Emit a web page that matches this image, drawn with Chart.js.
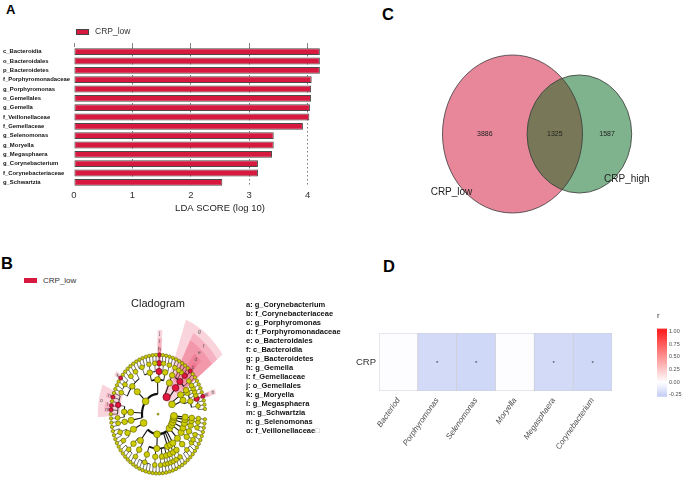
<!DOCTYPE html>
<html lang="en">
<head>
<meta charset="UTF-8" />
<title>CRP microbiome panels</title>
<script src="https://cdn.jsdelivr.net/npm/chart.js"></script>
<style>
  body { margin: 0; background: #fff; font-family: 'Liberation Sans', Arial, sans-serif; }
  #page { position: relative; width: 685px; height: 480px; overflow: hidden; }
  .tag { position: absolute; font-weight: bold; line-height: 1; color: #000; }
  .box { position: absolute; }
  .legend { position: absolute; font-family: 'Liberation Sans', Arial, sans-serif; font-size: 8.5px; color: #333; line-height: 9px; white-space: nowrap; }
  .legend i { display: inline-block; vertical-align: middle; background: #d7193f; margin-right: 6px; }
  #cladoKey { position: absolute; left: 246px; top: 300px; font: bold 7.5px Arial, 'Liberation Sans', sans-serif; line-height: 9px; color: #111; white-space: nowrap; }
</style>
</head>
<body>
<div id="page">
  <div class="tag" style="left:6px;top:3px;font-size:13px">A</div>
  <div class="tag" style="left:1px;top:255px;font-size:16.5px">B</div>
  <div class="tag" style="left:382px;top:6px;font-size:16.5px">C</div>
  <div class="tag" style="left:383px;top:258px;font-size:16.5px">D</div>

  <div class="box" style="left:0;top:0;width:372px;height:225px"><canvas id="ldaChart"></canvas></div>
  <div class="legend" style="left:76px;top:27px"><i style="width:11px;height:4px;border:1px solid #444"></i>CRP_low</div>

  <div class="box" style="left:350px;top:0;width:335px;height:240px"><canvas id="vennChart"></canvas></div>

  <div class="legend" style="left:24px;top:276px;font-size:8px"><i style="width:13px;height:5px"></i>CRP_low</div>
  <div class="box" style="left:40px;top:295px;width:236px;height:185px"><canvas id="cladoChart"></canvas></div>
  <div id="cladoKey"></div>

  <div class="box" style="left:350px;top:300px;width:290px;height:180px"><canvas id="heatChart"></canvas></div>
  <div class="box" style="left:657px;top:305px;width:28px;height:97px"><canvas id="barChart"></canvas></div>
</div>

<script>
  Chart.defaults.font.family = "'Liberation Sans', Arial, sans-serif";

  // ---- A: LEfSe LDA scores
  const lefseTaxa = [
    'c_Bacteroidia', 'o_Bacteroidales', 'p_Bacteroidetes', 'f_Porphyromonadaceae',
    'g_Porphyromonas', 'o_Gemellales', 'g_Gemella', 'f_Veillonellaceae', 'f_Gemellaceae',
    'g_Selenomonas', 'g_Moryella', 'g_Megasphaera', 'g_Corynebacterium',
    'f_Corynebacteriaceae', 'g_Schwartzia'
  ];
  const ldaScores = [4.21, 4.21, 4.21, 4.07, 4.06, 4.06, 4.04, 4.03, 3.92, 3.42, 3.42, 3.39, 3.15, 3.15, 2.54];
  const ldaTicks = [0, 1, 2, 3, 4];

  // ---- B: cladogram (phylum > class > order > family genus counts)
  const cladeTree = [
    [[[3, 1, 1, 1], [1]], [[1]]],                                   // Actinobacteria
    [[[2, 2, 1, 1]], [[2]]],                                        // Bacteroidetes
    [[[2, 2], [1], [2, 2, 3]], [[2, 2, 4, 1]], [[6, 1]], [[2]]],    // Firmicutes
    [[[3, 2]]],                                                     // Fusobacteria
    [[[4], [2]], [[5], [2], [2, 1], [1]], [[1, 1]], [[1]], [[2]]],  // Proteobacteria
    [[[4]]],                                                        // Spirochaetes
    [[[1, 1]]],                                                     // Synergistetes
    [[[2]]],                                                        // Saccharibacteria
    [[[2]]],                                                        // Tenericutes
    [[[1]]],                                                        // Cyanobacteria
    [[[1]]]                                                         // Chloroflexi
  ];
  const biomarkerLetters = ['a', 'b', 'c', 'd', 'e', 'f', 'g', 'h', 'i', 'j', 'k', 'l', 'm', 'n', 'o'];
  const biomarkerNames = [
    'g_Corynebacterium', 'f_Corynebacteriaceae', 'g_Porphyromonas', 'f_Porphyromonadaceae',
    'o_Bacteroidales', 'c_Bacteroidia', 'p_Bacteroidetes', 'g_Gemella', 'f_Gemellaceae',
    'o_Gemellales', 'g_Moryella', 'g_Megasphaera', 'g_Schwartzia', 'g_Selenomonas', 'f_Veillonellaceae'
  ];
  const biomarkerPaths = [
    [0, 0, 0, 1, 0], [0, 0, 0, 1], [1, 0, 0, 1, 0], [1, 0, 0, 1], [1, 0, 0], [1, 0], [1],
    [2, 0, 1, 0, 0], [2, 0, 1, 0], [2, 0, 1], [2, 1, 0, 2, 1],
    [2, 2, 0, 0, 3], [2, 2, 0, 0, 4], [2, 2, 0, 0, 1], [2, 2, 0, 0]
  ];

  // ---- C: Venn
  const vennSets = ['CRP_low', 'CRP_high'];
  const vennOnly = [3886, 1587];
  const vennShared = 1325;

  // ---- D: correlation heatmap
  const heatGenera = ['Bacteriod', 'Porphyromonas', 'Selenomonas', 'Moryella', 'Megasphaera', 'Corynebacterium'];
  const heatRows = ['CRP'];
  const heatR = [-0.01, -0.21, -0.22, -0.01, -0.21, -0.22];
  const heatSig = ['', '*', '*', '', '*', '*'];
  const colorbarTicks = [-0.25, 0, 0.25, 0.5, 0.75, 1];
  const colorbarRange = [-0.287, 1.055];

  // =================== A ===================
  new Chart(document.getElementById('ldaChart'), {
    type: 'bar',
    data: {
      labels: lefseTaxa,
      datasets: [{
        label: 'CRP_low',
        data: ldaScores,
        backgroundColor: '#d7193f',
        borderColor: '#4a4a4a',
        borderWidth: 1,
        borderSkipped: false,
        barPercentage: 0.74,
        categoryPercentage: 1,
        xAxisID: 'x'
      }]
    },
    options: {
      indexAxis: 'y',
      responsive: true,
      maintainAspectRatio: false,
      animation: false,
      layout: { padding: { top: 43, right: 6, left: 3, bottom: 0 } },
      plugins: { legend: { display: false }, tooltip: { enabled: false } },
      scales: {
        x: {
          min: 0, max: 5,
          afterBuildTicks: s => { s.ticks = ldaTicks.map(v => ({ value: v })); },
          afterFit: s => { s.height = 38; },
          grid: { color: c => (c.tick && c.tick.value === 0 ? 'rgba(0,0,0,0)' : '#555'), lineWidth: 0.8, drawTicks: false },
          border: { display: false, dash: [1.5, 2.5] },
          ticks: { color: '#333', padding: 3, font: { size: 9.5 } },
          title: { display: true, text: 'LDA SCORE (log 10)', color: '#222', padding: { top: 0, bottom: 11 }, font: { size: 9.5 } }
        },
        xTop: {
          position: 'top',
          min: 0, max: 5,
          afterBuildTicks: s => { s.ticks = ldaTicks.map(v => ({ value: v })); },
          afterFit: s => { s.height = 4; },
          grid: { drawOnChartArea: false, tickLength: 4, color: '#666', lineWidth: 0.8 },
          border: { display: false },
          ticks: { display: false }
        },
        y: {
          afterFit: s => { s.width = 71; },
          grid: { display: false, drawTicks: false },
          border: { display: false },
          ticks: { crossAlign: 'far', autoSkip: false, color: '#111', padding: 2, font: { size: 5.9, weight: 'bold' } }
        }
      }
    }
  });

  // =================== C ===================
  const vennTotals = vennOnly.map(n => n + vennShared);
  const vennRadius = vennTotals.map(n => Math.sqrt(n / Math.PI));
  function lensArea(r1, r2, d) {
    if (d >= r1 + r2) return 0;
    if (d <= Math.abs(r1 - r2)) return Math.PI * Math.min(r1, r2) ** 2;
    const a = r1 * r1 * Math.acos((d * d + r1 * r1 - r2 * r2) / (2 * d * r1));
    const b = r2 * r2 * Math.acos((d * d + r2 * r2 - r1 * r1) / (2 * d * r2));
    const c = 0.5 * Math.sqrt((-d + r1 + r2) * (d + r1 - r2) * (d - r1 + r2) * (d + r1 + r2));
    return a + b - c;
  }
  let lo = Math.abs(vennRadius[0] - vennRadius[1]), hi = vennRadius[0] + vennRadius[1];
  for (let i = 0; i < 60; i++) {
    const mid = (lo + hi) / 2;
    if (lensArea(vennRadius[0], vennRadius[1], mid) > vennShared) lo = mid; else hi = mid;
  }
  const vennDist = (lo + hi) / 2;
  const vennCentres = [{ x: 0, y: 0 }, { x: vennDist, y: 0 }];

  const vennPlugin = {
    id: 'vennPlugin',
    beforeDatasetsDraw(chart, args, opts) {
      const { ctx, scales: { x, y } } = chart;
      const ell = i => {
        const c = vennCentres[i], r = vennRadius[i];
        const cx = x.getPixelForValue(c.x), cy = y.getPixelForValue(c.y);
        ctx.beginPath();
        ctx.ellipse(cx, cy, x.getPixelForValue(c.x + r) - cx, cy - y.getPixelForValue(c.y + r), 0, 0, Math.PI * 2);
      };
      ctx.save();
      opts.fills.forEach((f, i) => { ell(i); ctx.fillStyle = f; ctx.fill(); });
      ctx.save();
      ell(0); ctx.clip();
      ell(1); ctx.fillStyle = opts.overlap; ctx.fill();
      ctx.restore();
      ctx.strokeStyle = '#3a3a3a'; ctx.lineWidth = 0.8;
      [0, 1].forEach(i => { ell(i); ctx.stroke(); });

      const [r1, r2] = vennRadius, d = vennDist;
      const regions = [(-r1 + d - r2) / 2, (d - r2 + r1) / 2, (r1 + d + r2) / 2];
      const counts = [vennOnly[0], vennShared, vennOnly[1]];
      ctx.fillStyle = '#222'; ctx.textAlign = 'center'; ctx.textBaseline = 'middle';
      ctx.font = "7px 'Liberation Sans', Arial, sans-serif";
      regions.forEach((rx, i) => ctx.fillText(String(counts[i]), x.getPixelForValue(rx), y.getPixelForValue(0)));
      ctx.font = "10px 'Liberation Sans', Arial, sans-serif";
      vennSets.forEach((name, i) => {
        const a = opts.catPos[i] * Math.PI / 180, R = vennRadius[i] + opts.catDist;
        const c = vennCentres[i];
        ctx.fillText(name, x.getPixelForValue(c.x + R * Math.sin(a)), y.getPixelForValue(c.y + R * Math.cos(a)));
      });
      ctx.restore();
    }
  };

  new Chart(document.getElementById('vennChart'), {
    type: 'scatter',
    data: { datasets: [{ data: vennCentres, pointRadius: 0 }] },
    options: {
      responsive: true, maintainAspectRatio: false, animation: false,
      layout: { padding: 0 },
      plugins: {
        legend: { display: false }, tooltip: { enabled: false },
        vennPlugin: { fills: ['#e8879a', '#7fb38d'], overlap: '#787858', catPos: [230, 130], catDist: 5.6 }
      },
      scales: {
        x: { display: false, min: -94.55, max: 100.37 },
        y: { display: false, min: -54.65, max: 69.09 }
      }
    },
    plugins: [vennPlugin]
  });

  // =================== B ===================
  const levelRadius = [0, 0.34, 0.58, 0.72, 0.86, 1.0];
  const levelDot = [1, 3.4, 3.1, 2.8, 2.4, 1.7];
  const levelLine = [0, 2.2, 1.8, 1.1, 0.8];
  const angleStart = 5, angleEnd = 355;

  function buildClade(tree) {
    let leafCount = 0;
    function walk(sub, level, path) {
      const node = { level, path, children: [] };
      if (typeof sub === 'number') {
        for (let g = 0; g < sub; g++) node.children.push({ level: level + 1, path: path.concat(g), children: [], leaf: leafCount++ });
      } else {
        sub.forEach((s, i) => node.children.push(walk(s, level + 1, path.concat(i))));
      }
      return node;
    }
    const root = walk(tree, 0, []);
    const step = (angleEnd - angleStart) / (leafCount - 1);
    const all = [];
    function place(n) {
      if (n.leaf !== undefined) { n.angle = angleStart + n.leaf * step; n.lo = n.hi = n.angle; }
      else {
        n.children.forEach(place);
        n.lo = n.children[0].lo; n.hi = n.children[n.children.length - 1].hi;
        const ca = n.children.map(c => c.angle);
        n.angle = (ca[0] + ca[ca.length - 1]) / 2;
      }
      all.push(n);
    }
    place(root);
    return { root, all, step };
  }
  const clade = buildClade(cladeTree);
  const pathKey = p => p.join('.');
  const markerIndex = new Map(biomarkerPaths.map((p, i) => [pathKey(p), i]));
  const polar = (r, deg) => ({ x: r * Math.cos(deg * Math.PI / 180), y: r * Math.sin(deg * Math.PI / 180) });

  const plainNodes = clade.all.filter(n => !markerIndex.has(pathKey(n.path)));
  const markerNodes = clade.all.filter(n => markerIndex.has(pathKey(n.path)));
  const wedgeOuter = n => 1 + 0.14 * (6 - n.level);

  const cladePlugin = {
    id: 'cladePlugin',
    beforeDatasetsDraw(chart) {
      const { ctx, scales: { x, y } } = chart;
      const cx = x.getPixelForValue(0), cy = y.getPixelForValue(0);
      const kx = x.getPixelForValue(1) - cx, ky = cy - y.getPixelForValue(1);
      const rad = d => d * Math.PI / 180;
      ctx.save();
      // shaded clades
      markerNodes.forEach(n => {
        const a1 = rad(n.lo - clade.step / 2), a2 = rad(n.hi + clade.step / 2);
        const ri = levelRadius[n.level] - 0.05, ro = wedgeOuter(n);
        ctx.beginPath();
        ctx.ellipse(cx, cy, kx * ro, ky * ro, 0, -a1, -a2, true);
        ctx.ellipse(cx, cy, kx * ri, ky * ri, 0, -a2, -a1, false);
        ctx.closePath();
        ctx.fillStyle = 'rgba(232, 40, 80, 0.2)';
        ctx.fill();
      });
      // branches
      ctx.strokeStyle = '#111';
      clade.all.forEach(n => {
        if (!n.children.length || n.level === 0) return;
        const r = levelRadius[n.level], rc = levelRadius[n.level + 1];
        ctx.lineWidth = levelLine[n.level];
        const first = n.children[0].angle, last = n.children[n.children.length - 1].angle;
        if (last > first) {
          ctx.beginPath();
          ctx.ellipse(cx, cy, kx * r, ky * r, 0, -rad(first), -rad(last), true);
          ctx.stroke();
        }
        ctx.lineWidth = Math.max(0.6, levelLine[n.level] * 0.5);
        n.children.forEach(c => {
          const t = rad(c.angle);
          ctx.beginPath();
          ctx.moveTo(cx + kx * r * Math.cos(t), cy - ky * r * Math.sin(t));
          ctx.lineTo(cx + kx * rc * Math.cos(t), cy - ky * rc * Math.sin(t));
          ctx.stroke();
        });
      });
      // clade letters
      ctx.fillStyle = '#555';
      ctx.font = "5px 'Liberation Sans', Arial, sans-serif";
      ctx.textAlign = 'center'; ctx.textBaseline = 'middle';
      markerNodes.forEach(n => {
        const t = rad(n.angle), ro = wedgeOuter(n) - 0.06;
        ctx.fillText(biomarkerLetters[markerIndex.get(pathKey(n.path))], cx + kx * ro * Math.cos(t), cy - ky * ro * Math.sin(t));
      });
      ctx.restore();
    }
  };

  const nodeData = list => list.map(n => polar(levelRadius[n.level], n.angle));
  new Chart(document.getElementById('cladoChart'), {
    type: 'scatter',
    data: {
      datasets: [
        {
          data: nodeData(plainNodes),
          pointRadius: plainNodes.map(n => levelDot[n.level]),
          pointBackgroundColor: '#cccc00',
          pointBorderColor: '#5e5e00',
          pointBorderWidth: 0.6,
          clip: false
        },
        {
          data: nodeData(markerNodes),
          pointRadius: markerNodes.map(n => levelDot[n.level] + 0.3),
          pointBackgroundColor: '#e0163f',
          pointBorderColor: '#5a0010',
          pointBorderWidth: 0.6,
          clip: false
        }
      ]
    },
    options: {
      responsive: true, maintainAspectRatio: false, animation: false,
      layout: { padding: 0 },
      plugins: {
        legend: { display: false }, tooltip: { enabled: false },
        title: { display: true, text: 'Cladogram', color: '#222', padding: { top: 2, bottom: 4 }, font: { size: 11, weight: 'normal' } }
      },
      scales: {
        x: { display: false, min: -2.408, max: 2.408 },
        y: { display: false, min: -1.033, max: 1.685 }
      }
    },
    plugins: [cladePlugin]
  });

  document.getElementById('cladoKey').innerHTML =
    biomarkerLetters.map((l, i) => `${l}: ${biomarkerNames[i]}${i === biomarkerLetters.length - 1 ? '<span style="color:#aaa;font-weight:normal">&#9633;</span>' : ''}`).join('<br>');

  // =================== D ===================
  const rLow = [42, 78, 223], rMid = [255, 255, 255], rHigh = [255, 36, 36];
  function rColor(v) {
    const t = Math.min(1, Math.abs(v));
    const end = v < 0 ? rLow : rHigh;
    return `rgb(${end.map((c, i) => Math.round(rMid[i] + (c - rMid[i]) * t)).join(',')})`;
  }

  const starPlugin = {
    id: 'starPlugin',
    afterDatasetsDraw(chart) {
      const { ctx } = chart;
      ctx.save();
      ctx.fillStyle = '#333';
      ctx.font = "6px 'Liberation Sans', Arial, sans-serif";
      ctx.textAlign = 'center'; ctx.textBaseline = 'middle';
      chart.getDatasetMeta(0).data.forEach((el, i) => {
        ctx.fillText(heatSig[i], el.x, (el.y + el.base) / 2 + 1);
      });
      ctx.restore();
    }
  };

  new Chart(document.getElementById('heatChart'), {
    type: 'bar',
    data: {
      labels: heatGenera,
      datasets: [{
        data: heatR.map(() => [0, 1]),
        backgroundColor: heatR.map(rColor),
        borderColor: '#cdcfd9',
        borderWidth: 0.8,
        borderSkipped: false,
        barPercentage: 1,
        categoryPercentage: 1
      }]
    },
    options: {
      responsive: true, maintainAspectRatio: false, animation: false,
      layout: { padding: { top: 33, right: 28, left: 0, bottom: 0 } },
      plugins: { legend: { display: false }, tooltip: { enabled: false } },
      scales: {
        x: {
          afterFit: s => { s.height = 89; },
          grid: { display: false, drawTicks: false }, border: { display: false },
          ticks: { minRotation: 55, maxRotation: 55, padding: 5, color: '#4d4d4d', font: { size: 8, style: 'italic' } }
        },
        y: {
          min: 0, max: 1,
          afterBuildTicks: s => { s.ticks = heatRows.map((_, i) => ({ value: 0.5 + i })); },
          afterFit: s => { s.width = 29; },
          grid: { display: false, drawTicks: false }, border: { display: false },
          ticks: { callback: (v, i) => heatRows[i], color: '#333', padding: 3, font: { size: 9.5 } }
        }
      }
    },
    plugins: [starPlugin]
  });

  new Chart(document.getElementById('barChart'), {
    type: 'bar',
    data: {
      labels: ['r'],
      datasets: [{
        data: [colorbarRange],
        barPercentage: 1, categoryPercentage: 1,
        backgroundColor: c => {
          const chart = c.chart;
          if (!chart.chartArea) return rColor(0);
          const ys = chart.scales.y;
          const [mn, mx] = colorbarRange;
          const g = chart.ctx.createLinearGradient(0, ys.getPixelForValue(mn), 0, ys.getPixelForValue(mx));
          [mn, ...colorbarTicks.filter(v => v > mn && v < mx), mx].forEach(v => g.addColorStop((v - mn) / (mx - mn), rColor(v)));
          return g;
        }
      }]
    },
    options: {
      responsive: true, maintainAspectRatio: false, animation: false,
      layout: { padding: 0 },
      plugins: {
        legend: { display: false }, tooltip: { enabled: false },
        title: { display: true, text: 'r', align: 'start', color: '#333', padding: { top: 6, bottom: 8 }, font: { size: 8, weight: 'normal' } }
      },
      scales: {
        x: { display: false },
        y: {
          position: 'right',
          min: colorbarRange[0], max: colorbarRange[1],
          afterBuildTicks: s => { s.ticks = colorbarTicks.map(v => ({ value: v })); },
          afterFit: s => { s.width = 18; },
          grid: { display: false, drawTicks: false }, border: { display: false },
          ticks: { callback: v => v.toFixed(2), color: '#4d4d4d', padding: 2, font: { size: 5.5 } }
        }
      }
    }
  });
</script>
</body>
</html>
